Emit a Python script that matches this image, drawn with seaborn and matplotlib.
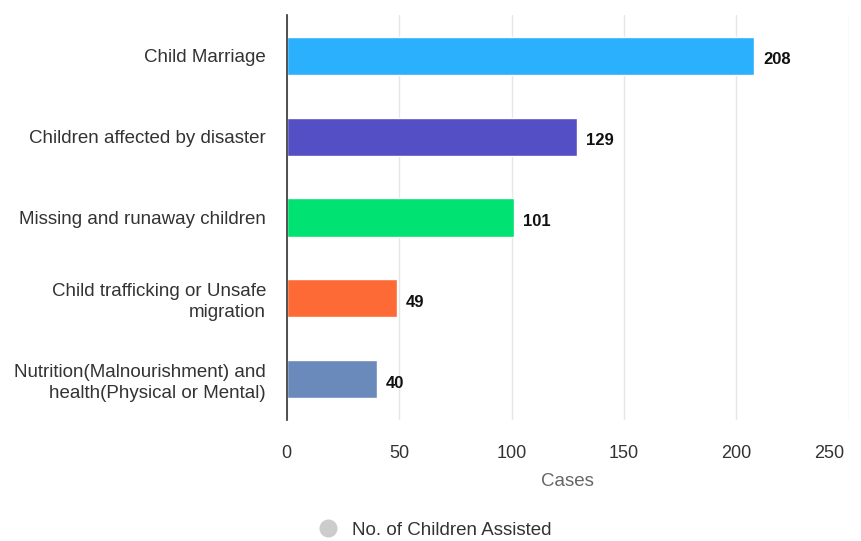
import pandas as pd
import matplotlib.pyplot as plt
import matplotlib.transforms as mtransforms
from matplotlib.lines import Line2D
import seaborn as sns

# data
categories = [
    'Child Marriage',
    'Children affected by disaster',
    'Missing and runaway children',
    'Child trafficking or Unsafe\nmigration',
    'Nutrition(Malnourishment) and\nhealth(Physical or Mental)',
]
cases = [208, 129, 101, 49, 40]
colors = ['#2bb0fd', '#544fc5', '#00e272', '#fe6a35', '#6b8abc']
x_ticks = [0, 50, 100, 150, 200, 250]

df = pd.DataFrame({'category': categories, 'cases': cases})

sns.set_style('white')
plt.rcParams['font.family'] = ['Liberation Sans', 'DejaVu Sans']

fig = plt.figure(figsize=(8.61, 5.41), dpi=100)
ax = fig.add_axes([0.333, 0.224, 0.653, 0.748])

sns.barplot(data=df, x='cases', y='category', hue='category',
            palette=colors, orient='h', width=0.47, legend=False,
            saturation=1, ax=ax)

# value labels
for i, v in enumerate(cases):
    ax.text(v + 4, i + 0.05, str(v), va='center', ha='left',
            fontsize=12, fontweight='bold', color='#111111')

ax.set_xlim(0, 250)
ax.set_xticks(x_ticks)
ax.set_xticklabels([str(t) for t in x_ticks], fontsize=13, color='#333333')
ax.tick_params(axis='x', length=0, pad=18)
# last tick label sits left of the edge gridline
last = ax.get_xticklabels()[-1]
last.set_transform(last.get_transform() +
                   mtransforms.ScaledTranslation(-0.2, 0, fig.dpi_scale_trans))
ax.tick_params(axis='y', length=0, pad=15, labelsize=13.5, labelcolor='#333333')
for lab in ax.get_yticklabels():
    lab.set_horizontalalignment('right')
    lab.set_multialignment('right')
    lab.set_linespacing(1.3)

ax.set_xlabel('Cases', fontsize=13.5, color='#666666', labelpad=8)
ax.set_ylabel('')

ax.grid(axis='x', color='#e6e6e6', linewidth=1)
ax.set_axisbelow(True)
for s in ['top', 'right', 'bottom']:
    ax.spines[s].set_visible(False)
ax.spines['left'].set_color('#333333')
ax.spines['left'].set_linewidth(1.2)

handle = Line2D([], [], marker='o', linestyle='', markersize=12,
                markerfacecolor='#cccccc', markeredgecolor='#cccccc')
fig.legend([handle], ['No. of Children Assisted'], loc='center',
           bbox_to_anchor=(0.50, 0.02), frameon=False, fontsize=13.5,
           handletextpad=0.3, labelcolor='#333333')

plt.savefig('out.png', dpi=100)
plt.close()
